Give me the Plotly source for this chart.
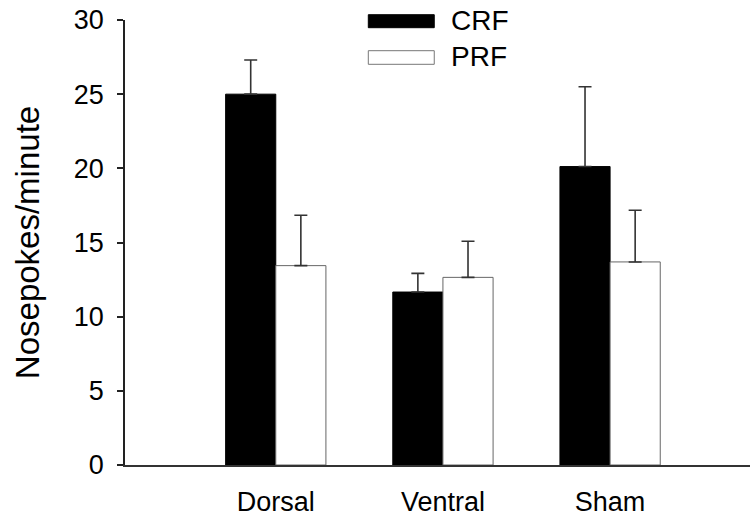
import plotly.graph_objects as go

# ---- data ----
groups = ["Dorsal", "Ventral", "Sham"]
series_names = ["CRF", "PRF"]
crf_mean = [25.0, 11.66, 20.12]
crf_err = [2.3, 1.26, 5.38]
prf_mean = [13.44, 12.65, 13.69]
prf_err = [3.4, 2.43, 3.48]
y_ticks = [0, 5, 10, 15, 20, 25, 30]

W, H = 750, 519
PLOT_L, PLOT_R, PLOT_T, PLOT_B = 124.5, 750, 20, 465   # page pixels
L = PLOT_L
R = W - PLOT_R
T = PLOT_T
B = H - PLOT_B
FONT = "Liberation Sans, Arial, sans-serif"

fig = go.Figure()
fig.add_trace(go.Bar(
    name=series_names[0], x=groups, y=crf_mean,
    marker=dict(color="black", line=dict(color="black", width=1)),
    error_y=dict(type="data", array=crf_err, arrayminus=[0] * len(crf_err),
                 symmetric=False, color="#333333", thickness=1.6, width=6.5),
    showlegend=False,
))
fig.add_trace(go.Bar(
    name=series_names[1], x=groups, y=prf_mean,
    marker=dict(color="white", line=dict(color="#666666", width=1)),
    error_y=dict(type="data", array=prf_err, arrayminus=[0] * len(prf_err),
                 symmetric=False, color="#333333", thickness=1.6, width=6.5),
    showlegend=False,
))

# legend drawn as shapes + text (wide swatches as in reference), page-pixel placement
pw, ph = PLOT_R - PLOT_L, PLOT_B - PLOT_T
def px(x):
    return (x - PLOT_L) / pw
def py(y):
    return (PLOT_B - y) / ph

swatches = [
    dict(y0=14.7, y1=27.7, fill="black", line="black", ty=20.5),
    dict(y0=50.7, y1=64.3, fill="white", line="#777777", ty=56.5),
]
for name, s in zip(series_names, swatches):
    fig.add_shape(type="rect", xref="paper", yref="paper",
                  x0=px(368), x1=px(434), y0=py(s["y1"]), y1=py(s["y0"]),
                  fillcolor=s["fill"], line=dict(color=s["line"], width=1))
    fig.add_annotation(xref="paper", yref="paper", x=px(449), y=py(s["ty"]),
                       text=name, showarrow=False, xanchor="left", yanchor="middle",
                       font=dict(size=28, color="black", family=FONT))

fig.update_layout(
    width=W, height=H,
    margin=dict(l=L, r=R, t=T, b=B, autoexpand=False),
    paper_bgcolor="white", plot_bgcolor="white",
    barmode="group", bargap=0.4, bargroupgap=0,
    font=dict(family=FONT, color="black", size=26),
)
fig.update_xaxes(
    range=[-0.902, 2.837], showline=True, linecolor="#333333", linewidth=1.5,
    ticks="", showgrid=False, zeroline=False, automargin=False,
    tickfont=dict(size=27, family=FONT, color="black"),
    ticklabelstandoff=12,
)
fig.update_yaxes(
    range=[0, 30], tickvals=y_ticks, ticktext=[str(v) for v in y_ticks],
    showline=True, linecolor="#222222", linewidth=1.5,
    ticks="outside", ticklen=6, tickwidth=1.5, tickcolor="#222222",
    showgrid=False, zeroline=False, automargin=False,
    tickfont=dict(size=27, family=FONT, color="black"),
    ticklabelstandoff=8, ticklabeloverflow="allow",
    title=dict(text="Nosepokes/minute", font=dict(size=33, family=FONT, color="black"),
               standoff=24),
)

# remove the browser's default 8px page margin so the figure fills the window
fig.write_html("out.html", config={"displayModeBar": False},
               post_script="document.body.style.margin='0';")
